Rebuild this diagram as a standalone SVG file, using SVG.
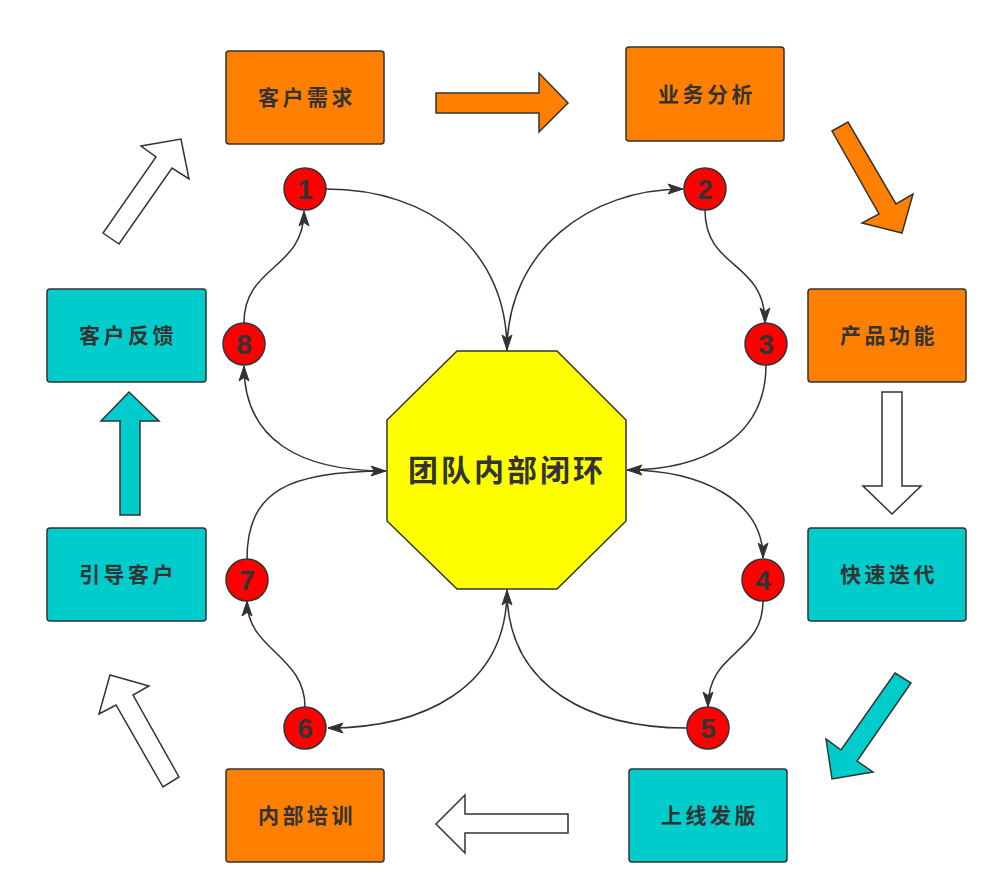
<svg xmlns="http://www.w3.org/2000/svg" width="998" height="894" viewBox="0 0 998 894">
<defs>
<style>
.box{stroke:#333333;stroke-width:1.5}
.orange{fill:#FF8000}
.cyan{fill:#00CCCC}
.white{fill:#FFFFFF}
.lbl{font-family:"Noto Sans CJK SC","Noto Sans",sans-serif;font-weight:bold;font-size:21px;fill:#333333;text-anchor:middle;letter-spacing:3.5px}
.big{font-family:"Noto Sans CJK SC","Noto Sans",sans-serif;font-weight:bold;font-size:30px;fill:#333333;text-anchor:middle;letter-spacing:3px}
.num circle{fill:#FF0000;stroke:#333333;stroke-width:1.5}
.num text{font-family:"Liberation Sans",Arial,sans-serif;font-weight:bold;font-size:28px;fill:#333333;text-anchor:middle}
.blk{stroke:#333333;stroke-width:1.5;stroke-linejoin:miter}
.edge{fill:none;stroke:#333333;stroke-width:1.5;marker-end:url(#arr)}
</style>
<marker id="arr" markerUnits="userSpaceOnUse" markerWidth="16" markerHeight="12" refX="15" refY="5" orient="auto" overflow="visible">
<path d="M0,0 L15,5 L0,10 L3.5,5 z" fill="#333333" stroke="#333333" stroke-width="1"/>
</marker>
</defs>
<rect width="998" height="894" fill="#FFFFFF"/>

<g id="connectors">
<path class="edge" d="M326,189 C430,189 507,250 507,350"/>
<path class="edge" d="M507,351 C507,250 590,189 683,189"/>
<path class="edge" d="M705,210 C705,270 765,260 765,323"/>
<path class="edge" d="M766,365 C766,440 700,470 627,470"/>
<path class="edge" d="M627,470 C700,470 763,500 763,558"/>
<path class="edge" d="M763,601 C763,655 708,650 708,707"/>
<path class="edge" d="M687,728 C594,728 507,690 507,590"/>
<path class="edge" d="M507,590 C507,690 420,728 328,728"/>
<path class="edge" d="M305,707 C305,655 247,650 247,601"/>
<path class="edge" d="M247,559 C247,490 290,471 386,471"/>
<path class="edge" d="M386,471 C300,471 244,440 244,366"/>
<path class="edge" d="M244,323 C244,265 304,270 304,211"/>
</g>

<g id="flow-arrows">
<polygon id="arrow-top" class="blk orange" points="436,93 539,93 539,73 568,103 539,132 539,113 436,113"/>
<polygon id="arrow-topright" class="blk orange" points="832,131 848,122 896,204 913,194 902,233 862,223 879,214"/>
<polygon id="arrow-right" class="blk white" points="882,392 902,392 902,486 921,486 892,514 863,486 882,486"/>
<polygon id="arrow-bottomright" class="blk cyan" points="895,673 911,683 857,761 873,772 832,779 826,739 841,750"/>
<polygon id="arrow-bottom" class="blk white" points="568,814 465,814 465,795 436,824 465,853 465,833 568,833"/>
<polygon id="arrow-bottomleft" class="blk white" points="110,675 149,686 133,695 179,777 163,787 116,705 99,714"/>
<polygon id="arrow-left" class="blk cyan" points="120,515 140,515 140,421 159,421 129,392 101,421 120,421"/>
<polygon id="arrow-topleft" class="blk white" points="103,233 119,244 172,168 189,179 181,139 141,146 156,157"/>
</g>

<g id="node-center">
<polygon points="457,351 557,351 626,420 626,521 557,589 457,589 387,521 387,420" fill="#FFFF00" stroke="#333333" stroke-width="1.5"/>
<text class="big" x="507" y="481">团队内部闭环</text>
</g>

<g id="node-khxq"><rect class="box orange" x="226" y="51" width="158" height="93" rx="3"/><text class="lbl" x="307" y="105">客户需求</text></g>
<g id="node-ywfx"><rect class="box orange" x="626" y="47" width="158" height="94" rx="3"/><text class="lbl" x="707" y="102">业务分析</text></g>
<g id="node-cpgn"><rect class="box orange" x="808" y="289" width="158" height="93" rx="3"/><text class="lbl" x="889" y="343">产品功能</text></g>
<g id="node-ksdd"><rect class="box cyan" x="808" y="528" width="158" height="93" rx="3"/><text class="lbl" x="889" y="582">快速迭代</text></g>
<g id="node-sxfb"><rect class="box cyan" x="629" y="769" width="158" height="93" rx="3"/><text class="lbl" x="710" y="823">上线发版</text></g>
<g id="node-nbpx"><rect class="box orange" x="226" y="769" width="158" height="93" rx="3"/><text class="lbl" x="307" y="823">内部培训</text></g>
<g id="node-ydkh"><rect class="box cyan" x="47" y="528" width="159" height="93" rx="3"/><text class="lbl" x="128" y="582">引导客户</text></g>
<g id="node-khfk"><rect class="box cyan" x="47" y="289" width="159" height="93" rx="3"/><text class="lbl" x="128" y="343">客户反馈</text></g>

<g id="node-n1" class="num"><circle cx="305" cy="189" r="21"/><text x="305" y="199">1</text></g>
<g id="node-n2" class="num"><circle cx="705" cy="189" r="21"/><text x="705" y="199">2</text></g>
<g id="node-n3" class="num"><circle cx="766" cy="344" r="21"/><text x="766" y="354">3</text></g>
<g id="node-n4" class="num"><circle cx="763" cy="580" r="21"/><text x="763" y="590">4</text></g>
<g id="node-n5" class="num"><circle cx="708" cy="728" r="21"/><text x="708" y="738">5</text></g>
<g id="node-n6" class="num"><circle cx="305" cy="728" r="21"/><text x="305" y="738">6</text></g>
<g id="node-n7" class="num"><circle cx="247" cy="580" r="21"/><text x="247" y="590">7</text></g>
<g id="node-n8" class="num"><circle cx="244" cy="344" r="21"/><text x="244" y="354">8</text></g>
</svg>
